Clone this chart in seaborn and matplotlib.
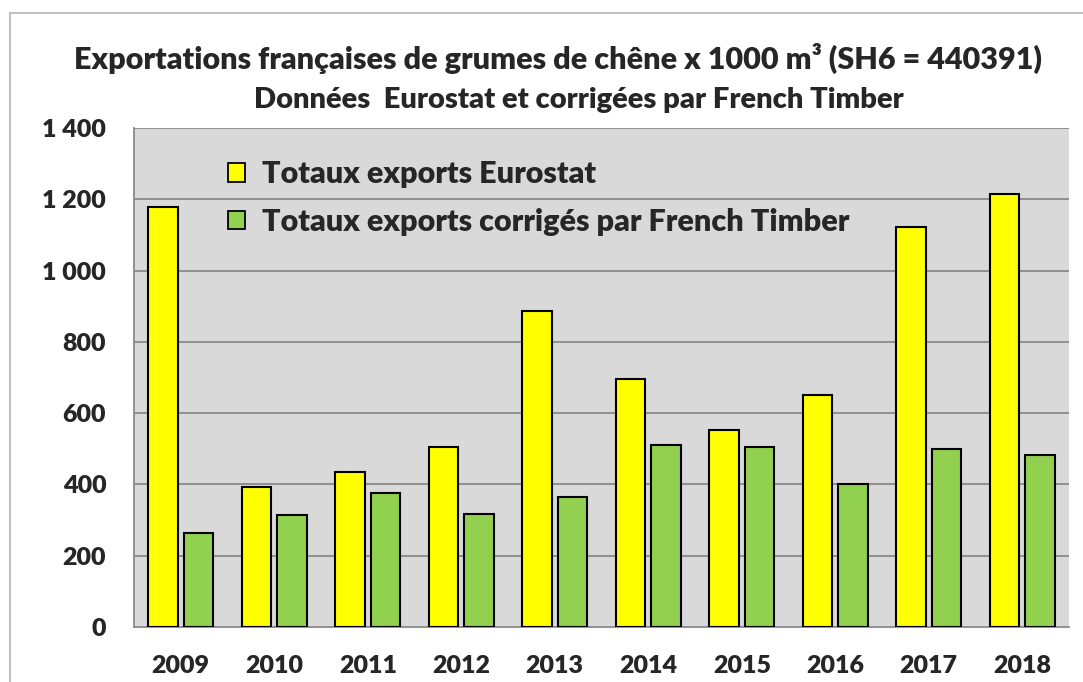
import matplotlib
matplotlib.use("Agg")
import matplotlib.pyplot as plt
import matplotlib.patches as mpatches
from matplotlib.ticker import FixedLocator
import numpy as np
import pandas as pd
import seaborn as sns

# --- data (x 1000 m3) ---
years = ["2009", "2010", "2011", "2012", "2013", "2014", "2015", "2016", "2017", "2018"]
eurostat = [1178, 393, 435, 505, 886, 695, 554, 650, 1121, 1215]
french_timber = [265, 315, 375, 318, 365, 511, 506, 401, 498, 482]
series_names = ["Totaux exports Eurostat", "Totaux exports corrigés par French Timber"]
y_ticks = [0, 200, 400, 600, 800, 1000, 1200, 1400]
y_tick_labels = ["0", "200", "400", "600", "800", "1 000", "1 200", "1 400"]
title_line1 = "Exportations françaises de grumes de chêne x 1000 m³ (SH6 = 440391)"
title_line2 = "Données  Eurostat et corrigées par French Timber"

df = pd.DataFrame({
    "annee": years * 2,
    "volume": eurostat + french_timber,
    "serie": [series_names[0]] * len(years) + [series_names[1]] * len(years),
})

sns.set_style("white")
plt.rcParams["font.family"] = ["Lato", "DejaVu Sans"]
WEIGHT = 800
plt.rcParams["font.weight"] = WEIGHT

W, H = 1083, 682
fig = plt.figure(figsize=(W / 100, H / 100), dpi=100)

# chart frame
fig.patches.append(mpatches.Rectangle((10 / W, -0.05), 1.1, 1 - 13 / H + 0.05,
                                      transform=fig.transFigure, fill=False,
                                      edgecolor="#c0c0c0", linewidth=1.5))

ax = fig.add_axes([134 / W, (H - 627) / H, (1069 - 134) / W, (627 - 128) / H])
ax.set_facecolor("#d9d9d9")

sns.barplot(data=df, x="annee", y="volume", hue="serie", order=years,
            hue_order=series_names, palette=["#ffff00", "#92d050"],
            edgecolor="black", linewidth=1.5, width=0.76, gap=0.16,
            saturation=1, ax=ax, legend=True, zorder=3)

ax.set_xlim(-0.5, len(years) - 0.5)
ax.set_ylim(0, 1400)
ax.set_yticks(y_ticks, labels=y_tick_labels, fontweight=WEIGHT, fontsize=18)
ax.set_xticks(range(len(years)), labels=years, fontweight=WEIGHT, fontsize=18)
ax.set_xlabel("")
ax.set_ylabel("")

grid_c = "#8a8a8a"
for v in y_ticks[1:]:
    ax.axhline(v, color=grid_c, linewidth=1.3, zorder=1)
ax.set_axisbelow(True)

for s in ["top", "right"]:
    ax.spines[s].set_visible(False)
for s in ["left", "bottom"]:
    ax.spines[s].set_color(grid_c)
    ax.spines[s].set_linewidth(1.3)
    ax.spines[s].set_zorder(2)

# category boundary ticks on the x axis, labels centred on each category
ax.xaxis.set_minor_locator(FixedLocator(np.arange(-0.5, len(years), 1.0)))
ax.tick_params(axis="x", which="major", length=0, pad=20)
ax.tick_params(axis="x", which="minor", length=7, width=1.3, color=grid_c)
ax.tick_params(axis="y", which="major", length=7, width=1.3, color=grid_c, pad=13)

leg = ax.legend(loc="upper left",
                bbox_to_anchor=((228 - 134) / (1069 - 134), 1 - (160 - 128) / (627 - 128)),
                frameon=False, handlelength=0.56, handleheight=0.56,
                handletextpad=0.56, labelspacing=0.65, borderpad=0, borderaxespad=0,
                prop={"weight": WEIGHT, "size": 22})
for h in leg.legend_handles:
    h.set_edgecolor("black")
    h.set_linewidth(1.3)

fig.text(558 / W, 1 - 58 / H, title_line1, ha="center", va="center",
         fontsize=22, fontweight=WEIGHT)
fig.text(579 / W, 1 - 100 / H, title_line2, ha="center", va="center",
         fontsize=21, fontweight=WEIGHT)

fig.savefig("out.png", dpi=100)
